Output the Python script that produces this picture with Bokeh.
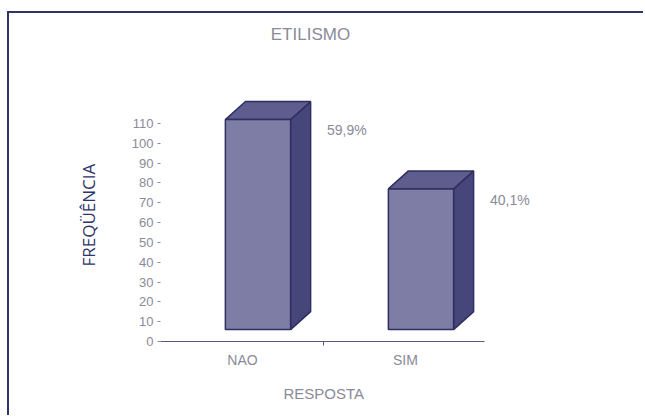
from bokeh.plotting import figure
from bokeh.models import Range1d, FixedTicker, Label, ColumnDataSource, Title
from bokeh.core.properties import value
from bokeh.embed import file_html
from bokeh.resources import INLINE

# data
categories = ["NAO", "SIM"]
frequencies = [106, 71]
y_ticks = list(range(0, 111, 10))

total = sum(frequencies)
pct_labels = [f"{100 * v / total:.1f}%".replace(".", ",") for v in frequencies]

# styling
FRONT = "#7e7da6"
TOP = "#5e5d8e"
SIDE = "#46467b"
EDGE = "#2f2f62"
TEXT = "#8a8a98"
NAVY = "#2d3467"

BASE = 6          # floor of the bars (value units)
HALF_L, HALF_R = 0.105, 0.295   # front face extent around category centre
DX, DY = 0.123, 9.1             # 3-D depth offset (x units, value units)

p = figure(width=636, height=404, output_backend="svg", toolbar_location=None,
           x_range=Range1d(-0.503, 1.951), y_range=Range1d(0, 162),
           min_border_left=151, min_border_right=85,
           min_border_top=7, min_border_bottom=76,
           styles={"margin-left": "7px", "margin-top": "11px",
                   "border-top": f"2px solid {NAVY}",
                   "border-left": f"2px solid {NAVY}"})
p.outline_line_color = None
p.grid.visible = False
p.background_fill_color = "white"
p.border_fill_color = "white"

xs_front, ys_front, xs_top, ys_top, xs_side, ys_side = [], [], [], [], [], []
for i, v in enumerate(frequencies):
    L, R = i - HALF_L, i + HALF_R
    B, T = BASE, BASE + v
    xs_front.append([L, R, R, L]); ys_front.append([B, B, T, T])
    xs_top.append([L, R, R + DX, L + DX]); ys_top.append([T, T, T + DY, T + DY])
    xs_side.append([R, R + DX, R + DX, R]); ys_side.append([B, B + DY, T + DY, T])

p.patches(xs_side, ys_side, fill_color=SIDE, line_color=EDGE, line_width=1.5)
p.patches(xs_top, ys_top, fill_color=TOP, line_color=EDGE, line_width=1.5)
p.patches(xs_front, ys_front, fill_color=FRONT, line_color=EDGE, line_width=1.5)

# percentage labels beside each bar
lab_src = ColumnDataSource(dict(
    x=[i + HALF_R + DX + 0.1 for i in range(len(frequencies))],
    y=[BASE + v - 5.5 for v in frequencies],
    t=pct_labels))
p.text(x="x", y="y", text="t", source=lab_src, text_font_size="14px",
       text_color=TEXT, text_baseline="middle", text_align="left",
       text_font=value("Liberation Sans"))

# axes
xa = p.xaxis[0]
xa.bounds = (-0.515, 1.485)
xa.ticker = FixedTicker(ticks=[0, 1], minor_ticks=[0.5])
xa.major_label_overrides = {0: categories[0], 1: categories[1]}
xa.major_tick_line_alpha = 0
xa.major_tick_out = 0
xa.major_tick_in = 0
xa.minor_tick_out = 4
xa.minor_tick_in = 0
xa.minor_tick_line_color = "#5a5a80"
xa.axis_line_color = "#5a5a80"
xa.major_label_standoff = 6
xa.major_label_text_font = "Liberation Sans"
xa.major_label_text_font_size = "14px"
xa.major_label_text_color = TEXT

ya = p.yaxis[0]
ya.bounds = (0, 123.2)
ya.ticker = FixedTicker(ticks=y_ticks)
ya.axis_line_alpha = 0
ya.major_tick_out = 3
ya.major_tick_in = 0
ya.minor_tick_line_alpha = 0
ya.major_tick_line_color = TEXT
ya.major_label_standoff = 4
ya.major_label_text_font = "Liberation Sans"
ya.major_label_text_font_size = "13px"
ya.major_label_text_color = TEXT

# axis titles
x_title = Title(text="RESPOSTA", align="left", offset=123, standoff=24,
                text_font="Liberation Sans", text_font_size="15px",
                text_font_style="normal", text_color=TEXT)
p.add_layout(x_title, "below")

y_title = Title(text="FREQÜÊNCIA", align="left", offset=75, standoff=58,
                text_font="Open Sans", text_font_size="17px",
                text_font_style="normal", text_color=NAVY)
p.add_layout(y_title, "left")

title = Label(x=0.417, y=155, text="ETILISMO", text_align="center",
              text_baseline="middle", text_font="Liberation Sans",
              text_font_size="17px", text_color=TEXT)
p.add_layout(title)

open("out.html", "w").write(file_html(p, INLINE))
